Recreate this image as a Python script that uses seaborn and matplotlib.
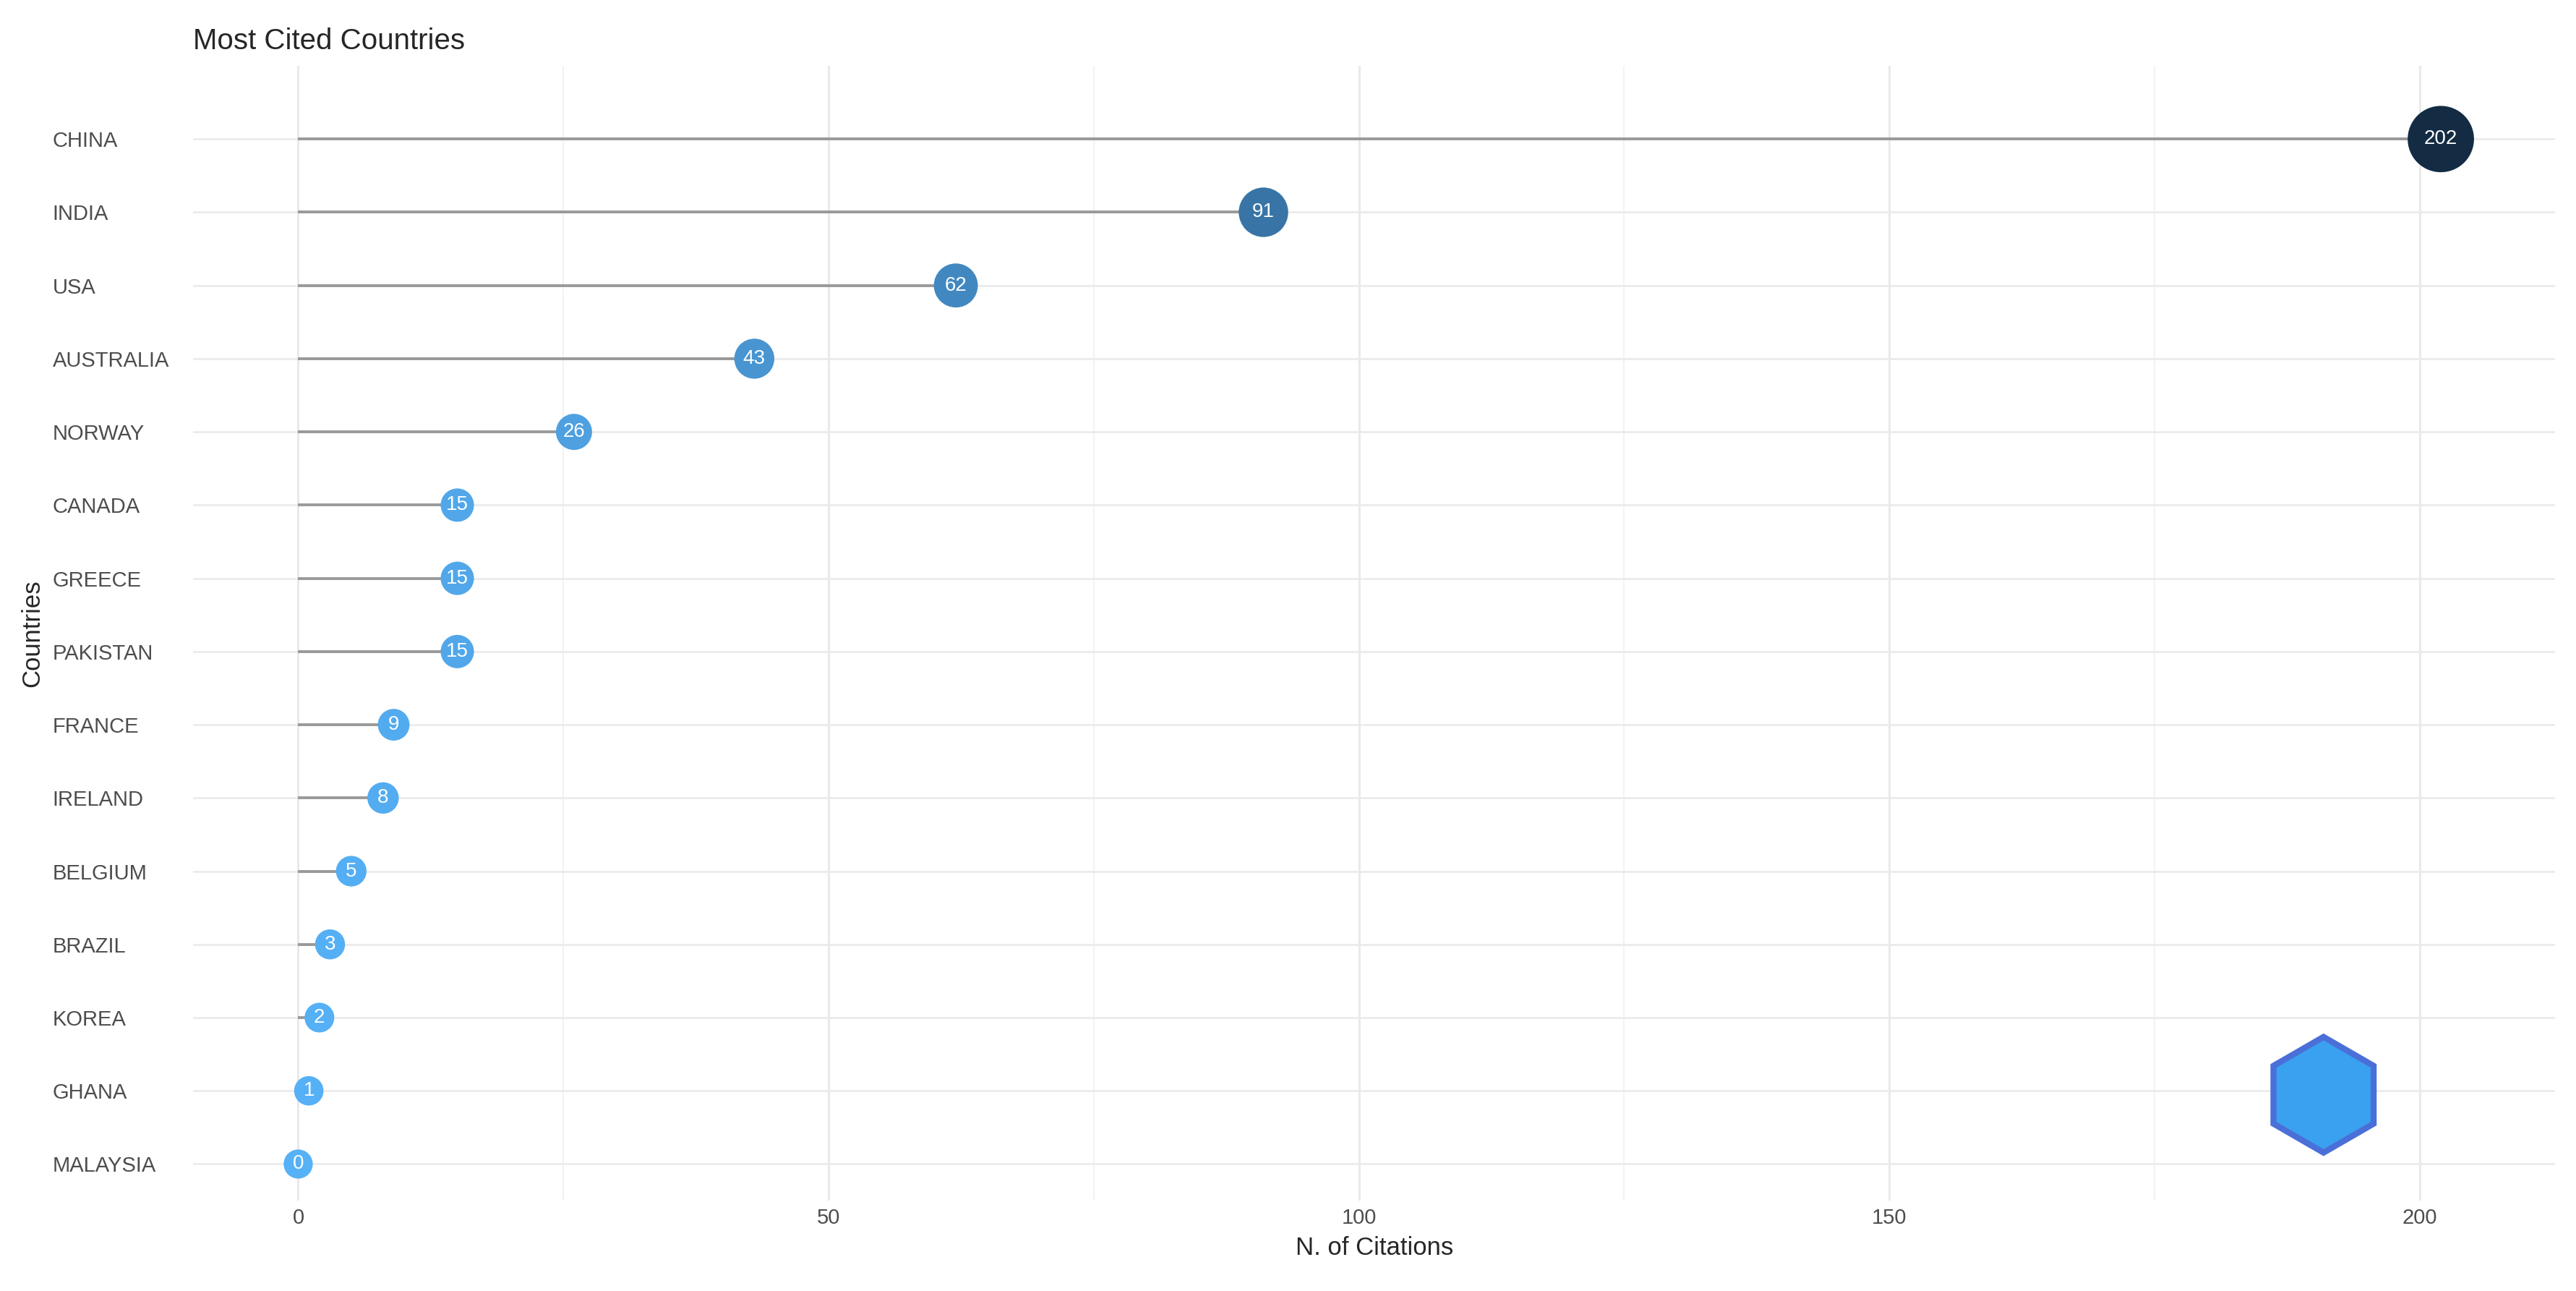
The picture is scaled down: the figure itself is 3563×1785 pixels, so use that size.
"""Lollipop chart of most cited countries."""

import matplotlib.pyplot as plt
import pandas as pd
import seaborn as sns
from matplotlib.colors import LinearSegmentedColormap
from matplotlib.patches import RegularPolygon

countries = ["CHINA", "INDIA", "USA", "AUSTRALIA", "NORWAY", "CANADA", "GREECE",
             "PAKISTAN", "FRANCE", "IRELAND", "BELGIUM", "BRAZIL", "KOREA",
             "GHANA", "MALAYSIA"]
citations = [202, 91, 62, 43, 26, 15, 15, 15, 9, 8, 5, 3, 2, 1, 0]

df = pd.DataFrame({"country": countries, "tc": citations})
df["pos"] = range(len(df))

sns.set_theme(style="white")
plt.rcParams["font.family"] = ["Liberation Sans", "DejaVu Sans"]

fig = plt.figure(figsize=(17.815, 8.925), dpi=200)
ax = fig.add_axes([0.075, 0.07, 0.917, 0.879])

cmap = LinearSegmentedColormap.from_list("gg", ["#56B1F7", "#132B43"])

# grid
for x in [25, 75, 125, 175]:
    ax.axvline(x, color="#f2f2f2", lw=0.7, zorder=0)
for x in [0, 50, 100, 150, 200]:
    ax.axvline(x, color="#e8e8e8", lw=1.0, zorder=0)
for y in df["pos"]:
    ax.axhline(y, color="#ebebeb", lw=1.0, zorder=0)

ax.hlines(df["pos"], 0, df["tc"], color="#999999", lw=1.4, zorder=1)

sizes = 210 + (1090 - 210) * df["tc"] / df["tc"].max()
sns.scatterplot(data=df, x="tc", y="pos", hue="tc", palette=cmap,
                hue_norm=(0, 202), s=sizes, edgecolor="none", legend=False,
                ax=ax, zorder=2)

for _, r in df.iterrows():
    ax.text(r["tc"], r["pos"], str(r["tc"]), color="white", ha="center",
            va="center", fontsize=10, zorder=3)

ax.set_xlim(-9.9, 212.8)
ax.set_ylim(len(df) - 0.5, -1)
ax.set_yticks(df["pos"], countries)
ax.set_xticks([0, 50, 100, 150, 200])
for lbl in ax.get_yticklabels():
    lbl.set_horizontalalignment("left")
ax.tick_params(axis="y", pad=70, labelsize=10.5, colors="#4d4d4d", length=0)
ax.tick_params(axis="x", labelsize=10.5, colors="#4d4d4d", length=0)
for s in ax.spines.values():
    s.set_visible(False)
ax.set_xlabel("N. of Citations", fontsize=12.5)
ax.set_ylabel("Countries", fontsize=12.5, labelpad=4)
fig.text(0.075, 0.962, "Most Cited Countries", fontsize=14.5)

# simple logo badge
cx, cy = 0.902 * 17.815, 0.152 * 8.925
hexagon = RegularPolygon((cx, cy), numVertices=6, radius=0.40,
                         transform=fig.dpi_scale_trans, facecolor="#3aa0f0",
                         edgecolor="#4a6fd8", lw=3, zorder=5)
fig.patches.append(hexagon)
fig.text(cx / 17.815, cy / 8.925 + 0.012, "BIBLIOMETRIX", fontsize=4.5,
         color="white", ha="center", va="center", weight="bold")

fig.savefig("out.png", dpi=200, facecolor="white")
